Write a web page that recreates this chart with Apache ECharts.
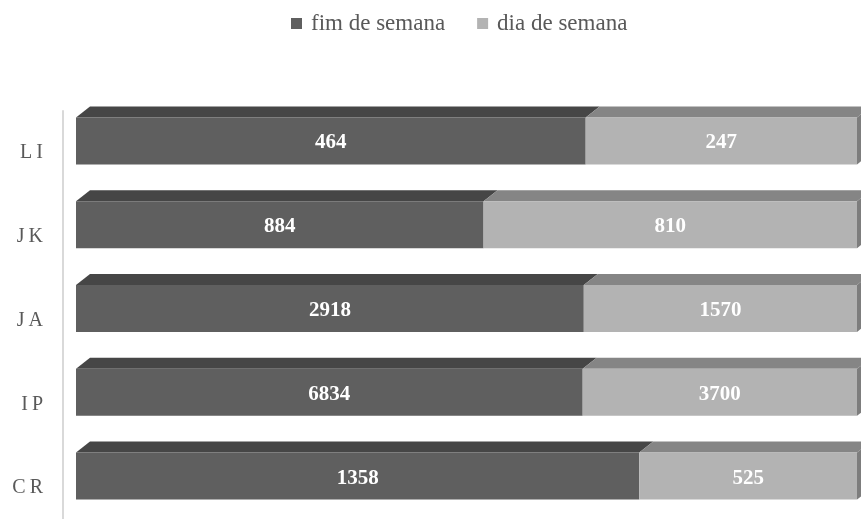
<!DOCTYPE html>
<html>
<head>
<meta charset="utf-8">
<script src="https://cdn.jsdelivr.net/npm/echarts@6/dist/echarts.min.js"></script>
<style>
  html, body { margin: 0; padding: 0; background: #fff; }
  #chart-container { width: 861px; height: 519px; }
</style>
</head>
<body>
<div id="chart-container"></div>
<script>
// categories from bottom to top (category axis starts at the bottom)
var categories = ['CR', 'IP', 'JA', 'JK', 'LI'];
var fimDeSemana = [1358, 6834, 2918, 884, 464];
var diaDeSemana = [525, 3700, 1570, 810, 247];
var seriesNames = ['fim de semana', 'dia de semana'];

var dom = document.getElementById('chart-container');
var myChart = echarts.init(dom, null, { renderer: 'canvas' });

var font = '"Liberation Serif", "DejaVu Serif", serif';
var faces = [
    { front: '#5f5f5f', top: '#464646', side: '#3f3f3f' },
    { front: '#b3b3b3', top: '#858585', side: '#7d7d7d' }
];
var DX = 14, DY = 11, SHIFT = 12, FRONT_H = 47;

// 100% stacked: [start %, end %, category index, raw value]
function buildData(which) {
    return categories.map(function (c, i) {
        var total = fimDeSemana[i] + diaDeSemana[i];
        var a = fimDeSemana[i] / total * 100;
        if (which === 0) return [0, a, i, fimDeSemana[i]];
        return [a, 100, i, diaDeSemana[i]];
    });
}

function makeRender(which) {
    return function (params, api) {
        var start = api.coord([api.value(0), api.value(2)]);
        var end = api.coord([api.value(1), api.value(2)]);
        var cy = start[1] - SHIFT;
        var y0 = cy - FRONT_H / 2, y1 = cy + FRONT_H / 2;
        var x0 = start[0], x1 = end[0];
        var c = faces[which];
        var children = [
            {
                type: 'polygon',
                shape: { points: [[x0, y0], [x1, y0], [x1 + DX, y0 - DY], [x0 + DX, y0 - DY]] },
                style: { fill: c.top }
            },
            {
                type: 'rect',
                shape: { x: x0, y: y0, width: x1 - x0, height: y1 - y0 },
                style: { fill: c.front }
            }
        ];
        if (which === 1) {
            children.push({
                type: 'polygon',
                shape: { points: [[x1, y0], [x1 + DX, y0 - DY], [x1 + DX, y1 - DY], [x1, y1]] },
                style: { fill: c.side }
            });
        }
        children.push({
            type: 'text',
            style: {
                text: String(api.value(3)),
                x: (x0 + x1) / 2,
                y: cy + 2,
                align: 'center',
                verticalAlign: 'middle',
                fill: '#ffffff',
                font: 'bold 21px ' + font
            }
        });
        return { type: 'group', children: children };
    };
}

var option = {
    animation: false,
    legend: {
        top: 12,
        left: 291,
        padding: 0,
        itemWidth: 11,
        itemHeight: 11,
        itemGap: 32,
        icon: 'rect',
        data: seriesNames,
        textStyle: { fontFamily: font, fontSize: 23, color: '#595959', padding: [0, 0, 0, 4] }
    },
    grid: { left: 63, right: 4, top: 111, bottom: -11, outerBoundsMode: 'none' },
    // axis line sits 13px left of where the bars start
    xAxis: { type: 'value', min: -1.665, max: 100, show: false },
    yAxis: {
        type: 'category',
        data: categories,
        axisLine: { show: true, onZero: false, lineStyle: { color: '#d9d9d9', width: 2 } },
        axisTick: { show: false },
        axisLabel: {
            margin: 20,
            fontFamily: font,
            fontSize: 20,
            color: '#595959',
            formatter: function (v) { return v.split('').join('\u2009'); }
        }
    },
    series: [0, 1].map(function (k) {
        return {
            name: seriesNames[k],
            type: 'custom',
            renderItem: makeRender(k),
            itemStyle: { color: faces[k].front },
            encode: { x: [0, 1], y: 2 },
            data: buildData(k)
        };
    })
};

myChart.setOption(option);
window.addEventListener('resize', myChart.resize);
</script>
</body>
</html>
